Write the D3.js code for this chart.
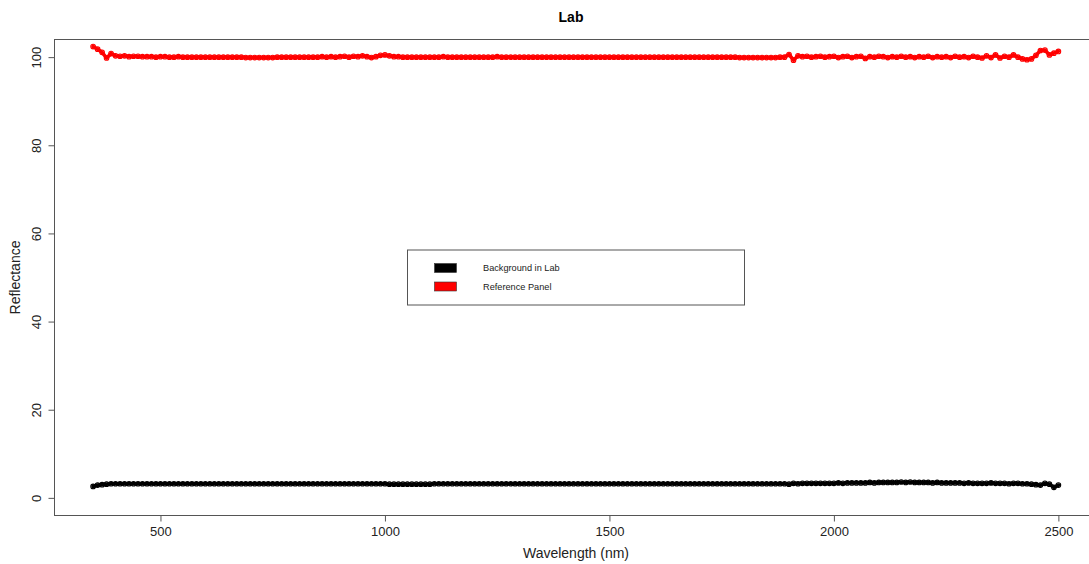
<!DOCTYPE html>
<html><head><meta charset="utf-8">
<script src="https://cdn.jsdelivr.net/npm/d3@7"></script>
<style>body{margin:0;background:#fff}svg{display:block}</style>
</head><body><svg id="c" width="1089" height="564"></svg>
<script>
const wavelength = [350,360,370,380,390,400,410,420,430,440,450,460,470,480,490,500,510,520,530,540,550,560,570,580,590,600,610,620,630,640,650,660,670,680,690,700,710,720,730,740,750,760,770,780,790,800,810,820,830,840,850,860,870,880,890,900,910,920,930,940,950,960,970,980,990,1000,1010,1020,1030,1040,1050,1060,1070,1080,1090,1100,1110,1120,1130,1140,1150,1160,1170,1180,1190,1200,1210,1220,1230,1240,1250,1260,1270,1280,1290,1300,1310,1320,1330,1340,1350,1360,1370,1380,1390,1400,1410,1420,1430,1440,1450,1460,1470,1480,1490,1500,1510,1520,1530,1540,1550,1560,1570,1580,1590,1600,1610,1620,1630,1640,1650,1660,1670,1680,1690,1700,1710,1720,1730,1740,1750,1760,1770,1780,1790,1800,1810,1820,1830,1840,1850,1860,1870,1880,1890,1900,1910,1920,1930,1940,1950,1960,1970,1980,1990,2000,2010,2020,2030,2040,2050,2060,2070,2080,2090,2100,2110,2120,2130,2140,2150,2160,2170,2180,2190,2200,2210,2220,2230,2240,2250,2260,2270,2280,2290,2300,2310,2320,2330,2340,2350,2360,2370,2380,2390,2400,2410,2420,2430,2440,2450,2460,2470,2480,2490,2500];

const referencePanel = [102.4,101.8,101.1,99.8,100.8,100.3,100.2,100.3,100.1,100.2,100.2,100.1,100.1,100.1,100.0,100.1,100.1,100.0,100.0,100.1,100.0,100.0,100.0,100.0,100.0,100.0,100.0,100.0,100.0,100.0,100.0,100.0,100.0,100.0,99.9,99.9,99.9,99.9,99.9,99.9,99.9,100.0,100.0,100.0,100.0,100.0,100.0,100.0,100.0,100.0,100.0,100.1,100.0,100.1,100.0,100.1,100.2,100.0,100.2,100.1,100.3,100.1,99.9,100.1,100.4,100.5,100.3,100.1,100.1,100.0,100.0,100.0,100.0,100.0,100.0,100.0,100.0,100.0,100.1,100.0,100.0,100.0,100.0,100.0,100.0,100.0,100.0,100.0,100.0,100.0,100.1,100.0,100.0,100.0,100.0,100.0,100.0,100.0,100.0,100.0,100.0,100.0,100.0,100.0,100.0,100.0,100.0,100.0,100.0,100.0,100.0,100.0,100.0,100.0,100.0,100.0,100.0,100.0,100.0,100.0,100.0,100.0,100.0,100.0,100.0,100.0,100.0,100.0,100.0,100.0,100.0,100.0,100.0,100.0,100.0,100.0,100.0,100.0,100.0,100.0,100.0,100.0,100.0,100.0,99.9,99.9,99.9,99.9,99.9,99.9,99.9,99.9,99.9,100.0,100.0,100.6,99.3,100.3,100.1,100.2,100.0,100.1,100.2,100.0,100.1,100.2,99.9,100.1,100.2,99.9,100.1,100.2,99.7,100.1,100.0,100.2,100.1,99.9,100.1,100.0,100.2,100.0,100.1,99.9,100.1,100.0,100.2,99.9,100.1,100.0,100.1,99.9,100.2,100.0,100.1,99.9,100.2,100.0,99.8,100.3,99.9,100.5,99.8,100.2,100.0,100.5,100.0,99.6,99.4,99.6,100.4,101.5,101.6,100.5,100.9,101.3,100.8];

const backgroundLab = [2.6,2.9,3.0,3.1,3.2,3.2,3.2,3.2,3.2,3.2,3.2,3.2,3.2,3.2,3.2,3.2,3.2,3.2,3.2,3.2,3.2,3.2,3.2,3.2,3.2,3.2,3.2,3.2,3.2,3.2,3.2,3.2,3.2,3.2,3.2,3.2,3.2,3.2,3.2,3.2,3.2,3.2,3.2,3.2,3.2,3.2,3.2,3.2,3.2,3.2,3.2,3.2,3.2,3.2,3.2,3.2,3.2,3.2,3.2,3.2,3.2,3.2,3.2,3.2,3.2,3.2,3.1,3.1,3.1,3.1,3.1,3.1,3.1,3.1,3.1,3.1,3.2,3.2,3.2,3.2,3.2,3.2,3.2,3.2,3.2,3.2,3.2,3.2,3.2,3.2,3.2,3.2,3.2,3.2,3.2,3.2,3.2,3.2,3.2,3.2,3.2,3.2,3.2,3.2,3.2,3.2,3.2,3.2,3.2,3.2,3.2,3.2,3.2,3.2,3.2,3.2,3.2,3.2,3.2,3.2,3.2,3.2,3.2,3.2,3.2,3.2,3.2,3.2,3.2,3.2,3.2,3.2,3.2,3.2,3.2,3.2,3.2,3.2,3.2,3.2,3.2,3.2,3.2,3.2,3.2,3.2,3.2,3.2,3.2,3.2,3.2,3.2,3.2,3.2,3.2,3.1,3.3,3.2,3.3,3.3,3.3,3.3,3.3,3.3,3.3,3.3,3.4,3.3,3.4,3.4,3.4,3.4,3.4,3.5,3.4,3.5,3.5,3.5,3.5,3.5,3.6,3.5,3.6,3.5,3.5,3.5,3.5,3.4,3.5,3.4,3.4,3.4,3.4,3.4,3.3,3.4,3.3,3.3,3.3,3.3,3.4,3.3,3.3,3.3,3.2,3.3,3.3,3.2,3.2,3.1,3.0,2.9,3.3,3.1,2.4,2.9];

const xTicks = [500,1000,1500,2000,2500];
const yTicks = [0,20,40,60,80,100];
const yLimits = [0,100];
const seriesNames = ["Background in Lab","Reference Panel"];
const seriesColors = ["#000000","#ff0000"];

const svg = d3.select("#c");
const L = 54.5, T = 39.5, R = 1097, B = 515.5;
const xmin = d3.min(wavelength), xmax = d3.max(wavelength);
const xr = (xmax - xmin) * 0.04, yr = (yLimits[1] - yLimits[0]) * 0.04;
const x = d3.scaleLinear().domain([xmin - xr, xmax + xr]).range([L, R]);
const y = d3.scaleLinear().domain([yLimits[0] - yr, yLimits[1] + yr]).range([B, T]);
const axisColor = "#555";
const font = "'Liberation Sans', Arial, sans-serif";

// series
const series = [backgroundLab, referencePanel];
series.forEach((vals, si) => {
  const pts = wavelength.map((w, i) => [w, vals[i]]);
  svg.append("path")
    .attr("d", d3.line().x(d => x(d[0])).y(d => y(d[1]))(pts))
    .attr("fill", "none").attr("stroke", seriesColors[si])
    .attr("stroke-width", 3.6).attr("stroke-linejoin", "round").attr("stroke-linecap", "round");
  svg.append("g").selectAll("circle").data(pts).join("circle")
    .attr("cx", d => x(d[0])).attr("cy", d => y(d[1])).attr("r", 2.3)
    .attr("fill", "none").attr("stroke", seriesColors[si]).attr("stroke-width", 1.1);
});

// box
svg.append("rect").attr("x", L).attr("y", T).attr("width", R - L).attr("height", B - T)
  .attr("fill", "none").attr("stroke", axisColor).attr("stroke-width", 1);

// x axis
const xa = svg.append("g").attr("transform", `translate(0,${B})`)
  .call(d3.axisBottom(x).tickValues(xTicks).tickSize(6).tickPadding(5).tickFormat(d3.format("d")));
xa.select(".domain").remove();
xa.selectAll("line").attr("stroke", axisColor);
xa.selectAll("text").attr("font-family", font).attr("font-size", 13).attr("fill", "#222");

// y axis
const ya = svg.append("g").attr("transform", `translate(${L},0)`)
  .call(d3.axisLeft(y).tickValues(yTicks).tickSize(6).tickFormat(d3.format("d")));
ya.select(".domain").remove();
ya.selectAll("line").attr("stroke", axisColor);
ya.selectAll("text").attr("font-family", font).attr("font-size", 13).attr("fill", "#222")
  .attr("x", null).attr("dy", null)
  .attr("text-anchor", "middle")
  .attr("transform", "translate(-14,0) rotate(-90)");

// title and labels
svg.append("text").attr("x", 571).attr("y", 22).attr("text-anchor", "middle")
  .attr("font-family", font).attr("font-size", 14).attr("font-weight", "bold").attr("fill", "#000").text("Lab");
svg.append("text").attr("x", 576).attr("y", 558).attr("text-anchor", "middle")
  .attr("font-family", font).attr("font-size", 14).attr("fill", "#222").text("Wavelength (nm)");
svg.append("text").attr("transform", `translate(20,${(T + B) / 2}) rotate(-90)`).attr("text-anchor", "middle")
  .attr("font-family", font).attr("font-size", 14).attr("fill", "#222").text("Reflectance");

// legend
const lg = svg.append("g");
lg.append("rect").attr("x", 407.5).attr("y", 250).attr("width", 337).attr("height", 55)
  .attr("fill", "#fff").attr("stroke", axisColor).attr("stroke-width", 1);
seriesNames.forEach((n, i) => {
  const cy = 268 + i * 18.5;
  lg.append("rect").attr("x", 434.5).attr("y", cy - 4.5).attr("width", 22).attr("height", 9)
    .attr("fill", seriesColors[i]).attr("stroke", "#333").attr("stroke-width", 0.6);
  lg.append("text").attr("x", 483).attr("y", cy + 3.3).attr("font-family", font).attr("font-size", 9.2)
    .attr("fill", "#222").text(n);
});
</script></body></html>
